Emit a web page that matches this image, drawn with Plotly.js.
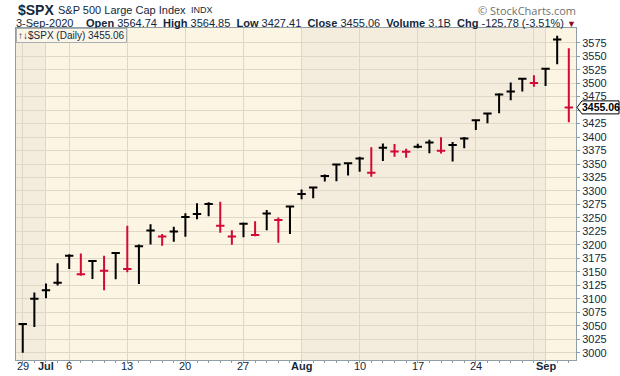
<!DOCTYPE html>
<html><head><meta charset="utf-8">
<script src="https://cdn.plot.ly/plotly-3.0.1.min.js"></script>
<style>html,body{margin:0;padding:0;background:#fff;}#c{width:620px;height:376px;}</style>
</head><body><div id="c"></div>
<script>
const dates = ['2020-06-29','2020-06-30','2020-07-01','2020-07-02','2020-07-06','2020-07-07','2020-07-08','2020-07-09','2020-07-10',
 '2020-07-13','2020-07-14','2020-07-15','2020-07-16','2020-07-17','2020-07-20','2020-07-21','2020-07-22','2020-07-23','2020-07-24',
 '2020-07-27','2020-07-28','2020-07-29','2020-07-30','2020-07-31','2020-08-03','2020-08-04','2020-08-05','2020-08-06','2020-08-07',
 '2020-08-10','2020-08-11','2020-08-12','2020-08-13','2020-08-14','2020-08-17','2020-08-18','2020-08-19','2020-08-20','2020-08-21',
 '2020-08-24','2020-08-25','2020-08-26','2020-08-27','2020-08-28','2020-08-31','2020-09-01','2020-09-02','2020-09-03'];
const openP = [3018.59,3050.17,3105.92,3143.64,3155.29,3166.44,3153.07,3176.17,3152.47,3205.08,3141.11,3225.98,3208.36,3224.21,3224.29,3268.52,3254.86,3271.64,3218.58,3219.84,3234.27,3227.22,3231.76,3270.45,3288.26,3289.92,3317.37,3323.17,3340.05,3356.04,3370.34,3355.46,3372.95,3368.66,3380.86,3387.04,3392.51,3360.48,3386.01,3418.09,3435.95,3449.97,3485.14,3494.69,3509.73,3507.44,3543.76,3564.74];
const highP = [3053.89,3111.51,3128.44,3165.81,3182.59,3184.15,3171.80,3179.78,3186.82,3235.32,3200.95,3238.28,3220.39,3233.52,3258.61,3277.29,3279.32,3279.99,3227.26,3241.43,3243.72,3264.74,3250.92,3272.17,3302.73,3306.84,3330.77,3351.03,3352.54,3363.29,3381.01,3387.89,3387.24,3378.51,3387.59,3395.06,3399.54,3390.80,3399.96,3432.09,3444.21,3481.07,3501.38,3509.23,3514.77,3528.03,3588.11,3564.85];
const lowP = [2999.74,3047.83,3101.17,3124.52,3155.29,3142.93,3136.53,3115.70,3136.22,3149.43,3127.66,3200.76,3198.59,3205.65,3215.16,3247.77,3253.10,3222.66,3200.05,3214.25,3216.17,3227.22,3204.13,3220.26,3284.53,3286.37,3317.37,3318.14,3328.72,3335.44,3326.44,3355.46,3363.35,3361.64,3379.22,3370.15,3369.66,3354.69,3379.31,3413.13,3425.84,3444.15,3468.35,3484.32,3493.25,3494.60,3535.23,3427.41];
const closeP = [3053.24,3100.29,3115.86,3130.01,3179.72,3145.32,3169.94,3152.05,3185.04,3155.22,3197.52,3226.56,3215.57,3224.73,3251.84,3257.30,3276.02,3235.66,3215.63,3239.41,3218.44,3258.44,3246.22,3271.12,3294.61,3306.51,3327.77,3349.16,3351.28,3360.47,3333.69,3380.35,3373.43,3372.85,3381.99,3389.78,3374.85,3385.51,3397.16,3431.28,3443.62,3478.73,3484.55,3508.01,3500.31,3526.65,3580.84,3455.06];
const tickDates = ['2020-06-29','2020-07-01','2020-07-06','2020-07-13','2020-07-20','2020-07-27','2020-08-03','2020-08-10','2020-08-17','2020-08-24','2020-08-31','2020-09-01'];
const tickLabels = ['29','<b>Jul</b>','6','13','20','27','<b>Aug</b>','10','17','24','','<b>Sep</b>'];
const monthStarts = ['2020-07-01','2020-08-03','2020-09-01'];
const yTicks = [3000,3025,3050,3075,3100,3125,3150,3175,3200,3225,3250,3275,3300,3325,3350,3375,3400,3425,3450,3475,3500,3525,3550,3575];
const volume = '3.1B';

const UP = '#000000', DOWN = '#d20a36';
const xs = dates.map((d,i)=>i);
const isUp = closeP.map((c,i)=> i===0 ? c>=openP[0] : c>=closeP[i-1]);
function sub(flag){
  const idx = xs.filter(i=>isUp[i]===flag);
  const col = flag?UP:DOWN;
  return {type:'ohlc', x:idx, open:idx.map(i=>closeP[i]), high:idx.map(i=>highP[i]), low:idx.map(i=>lowP[i]), close:idx.map(i=>closeP[i]),
    tickwidth:0.36, increasing:{line:{color:col,width:2}}, decreasing:{line:{color:col,width:2}}, hoverinfo:'none', showlegend:false};
}
const yMin=2986.5, yMax=3602.3, xMin=-0.58, xMax=47.62;
const LIGHT='#fcf5e3', DARK='#f4eddd';
const shapes=[];
const bounds=[xMin].concat(monthStarts.map(d=>dates.indexOf(d)-0.05)).concat([xMax]);
for(let k=0;k<bounds.length-1;k++){
  shapes.push({type:'rect',xref:'x',yref:'paper',x0:bounds[k],x1:bounds[k+1],y0:0,y1:1,fillcolor:(k%2===0)?DARK:LIGHT,line:{width:0},layer:'below'});
}
const last = closeP.length-1;
const py = (closeP[last]-yMin)/(yMax-yMin);
const pw = 560, ph = 332;
const tip = 1+1/pw, bx = 1+6/pw, ex = 1+43/pw, hh = 6.5/ph;
shapes.push({type:'path',xref:'paper',yref:'paper',path:`M${tip},${py} L${bx},${py+hh} L${ex},${py+hh} L${ex},${py-hh} L${bx},${py-hh} Z`,fillcolor:'#ffffff',line:{color:'#000',width:1},layer:'above'});

const TXT='#14283a';
const F='"Liberation Sans", Arial, sans-serif';
const chg = closeP[last]-closeP[last-1];
const pct = chg/closeP[last-1]*100;
const sp=' &nbsp;';
const line2 = `<b>Open</b> ${openP[last].toFixed(2)}${sp}<b>High</b> ${highP[last].toFixed(2)}${sp}<b>Low</b> ${lowP[last].toFixed(2)}${sp}<b>Close</b> ${closeP[last].toFixed(2)}${sp}<b>Volume</b> ${volume}${sp}<b>Chg</b> ${chg.toFixed(2)} (${pct.toFixed(2)}%) <span style="color:#8b0a2a;font-size:9px">▼</span>`;
const annotations=[
  {xref:'paper',yref:'paper',x:0,y:1,xanchor:'left',yanchor:'middle',xshift:0,yshift:18,showarrow:false,text:'<b>$SPX</b>',font:{family:F,size:14,color:TXT}},
  {xref:'paper',yref:'paper',x:0,y:1,xanchor:'left',yanchor:'middle',xshift:40,yshift:18,showarrow:false,text:'S&P 500 Large Cap Index',font:{family:F,size:11,color:TXT}},
  {xref:'paper',yref:'paper',x:0,y:1,xanchor:'left',yanchor:'middle',xshift:173,yshift:18,showarrow:false,text:'INDX',font:{family:F,size:9,color:TXT}},
  {xref:'paper',yref:'paper',x:0,y:1,xanchor:'left',yanchor:'middle',xshift:-2,yshift:5,showarrow:false,text:'3-Sep-2020',font:{family:F,size:11,color:TXT}},
  {xref:'paper',yref:'paper',x:0,y:1,xanchor:'left',yanchor:'middle',xshift:68,yshift:5,showarrow:false,text:line2,font:{family:F,size:11,color:TXT}},
  {xref:'paper',yref:'paper',x:1,y:1,xanchor:'right',yanchor:'middle',xshift:2,yshift:18,showarrow:false,text:'© StockCharts.com',font:{family:'"Open Sans", "DejaVu Sans", sans-serif',size:11,color:'#707070'}},
  {xref:'paper',yref:'paper',x:0,y:1,xanchor:'left',yanchor:'top',xshift:0,yshift:0,showarrow:false,text:'↑↓$SPX (Daily) '+closeP[last].toFixed(2),font:{family:F,size:10,color:TXT},bgcolor:'#fcf6e8',bordercolor:'#a9b0b2',borderwidth:1,borderpad:1},
  {xref:'paper',yref:'paper',x:1,y:py,xanchor:'left',yanchor:'middle',xshift:4,showarrow:false,text:'<b>'+closeP[last].toFixed(2)+'</b>',font:{family:F,size:10.5,color:'#000'}}
];
tickDates.forEach((d,k)=>{
  if(tickLabels[k]) annotations.push({xref:'x',yref:'paper',x:dates.indexOf(d),y:0,xanchor:'center',yanchor:'middle',yshift:-6,showarrow:false,text:tickLabels[k],font:{family:F,size:11,color:TXT}});
});
const layout={
  width:620,height:376,margin:{l:16,r:44,t:28,b:16},
  paper_bgcolor:'#ffffff',plot_bgcolor:LIGHT,showlegend:false,
  xaxis:{range:[xMin,xMax],tickmode:'array',tickvals:tickDates.map(d=>dates.indexOf(d)),ticktext:tickLabels,showticklabels:false,
    showgrid:true,gridcolor:'#e0d8c6',gridwidth:1,zeroline:false,showline:true,linecolor:'#8e9ea4',linewidth:1,mirror:true,
    ticks:'outside',ticklen:2,tickcolor:'#8e9ea4',
    minor:{tickmode:'linear',tick0:0,dtick:1,ticks:'outside',ticklen:2,tickcolor:'#8e9ea4',showgrid:false},
    rangeslider:{visible:false},fixedrange:true},
  yaxis:{range:[yMin,yMax],side:'right',tickmode:'array',tickvals:yTicks,ticktext:yTicks.map(v=>v===3450?'':String(v)),
    showgrid:true,gridcolor:'#e0d8c6',gridwidth:1,zeroline:false,showline:true,linecolor:'#8e9ea4',linewidth:1,mirror:true,
    ticks:'outside',ticklen:3,tickcolor:'#8e9ea4',tickfont:{family:F,size:11,color:TXT},fixedrange:true},
  shapes:shapes,annotations:annotations
};
Plotly.newPlot('c',[sub(true),sub(false)],layout,{staticPlot:true,displayModeBar:false});
</script></body></html>
